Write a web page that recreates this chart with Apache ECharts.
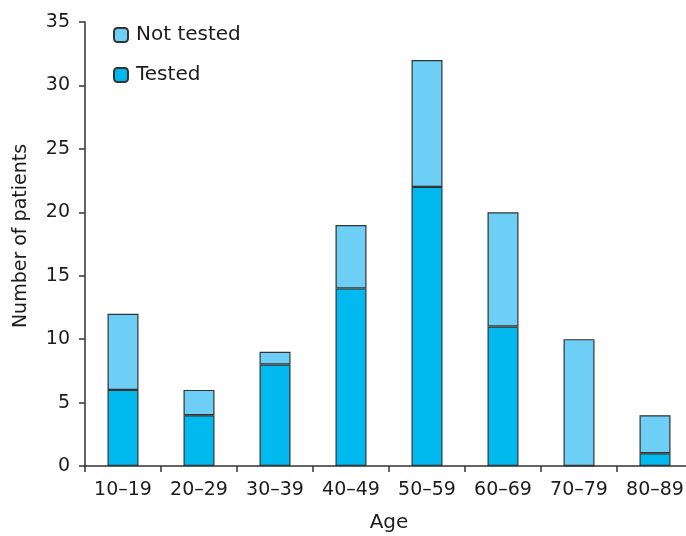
<!DOCTYPE html>
<html><head><meta charset="utf-8">
<script src="https://cdn.jsdelivr.net/npm/echarts@6/dist/echarts.min.js"></script>
<style>html,body{margin:0;padding:0;background:#fff}#c{width:686px;height:536px}</style>
</head><body><div id="c"></div>
<script>
const categories = ['10–19','20–29','30–39','40–49','50–59','60–69','70–79','80–89'];
const tested = [6, 4, 8, 14, 22, 11, 0, 1];
const notTested = [6, 2, 1, 5, 10, 9, 10, 3];
const yTicks = {min: 0, max: 35, interval: 5};

const font = 'DejaVu Sans, sans-serif';
const txt = '#1c1c1c';
const chart = echarts.init(document.getElementById('c'));
chart.setOption({
  animation: false,
  textStyle: {fontFamily: font},
  grid: {left: 85, top: 22, height: 444, width: 608, containLabel: false, outerBoundsMode: 'none'},
  legend: {
    orient: 'vertical', left: 108, top: 20, itemWidth: 14, itemHeight: 14, itemGap: 20,
    textStyle: {fontSize: 20, color: txt, fontFamily: font, padding: [0, 0, 0, 3]},
    data: ['Not tested', 'Tested']
  },
  xAxis: {
    type: 'category', data: categories,
    name: 'Age', nameLocation: 'middle', nameGap: 47,
    nameTextStyle: {fontSize: 20, color: txt},
    axisLine: {lineStyle: {color: '#333', width: 1.5}},
    axisTick: {show: true, length: 6, lineStyle: {color: '#333', width: 1.5}},
    axisLabel: {fontSize: 19, color: txt, margin: 15, interval: 0, hideOverlap: false}
  },
  yAxis: {
    type: 'value', min: yTicks.min, max: yTicks.max, interval: yTicks.interval,
    name: 'Number of patients', nameLocation: 'middle', nameGap: 54,
    nameTextStyle: {fontSize: 19, color: txt, padding: [0, 0, 0, 16]},
    splitLine: {show: false},
    axisLine: {show: true, lineStyle: {color: '#333', width: 1.5}},
    axisTick: {show: true, length: 6, lineStyle: {color: '#333', width: 1.5}},
    axisLabel: {fontSize: 19, color: txt, margin: 15}
  },
  series: [
    {name: 'Tested', type: 'bar', stack: 'a', data: tested, barWidth: 31,
     itemStyle: {color: '#00b9ef', borderColor: '#333', borderWidth: 1.2}},
    {name: 'Not tested', type: 'bar', stack: 'a', data: notTested, barWidth: 31,
     itemStyle: {color: '#6dcff6', borderColor: '#333', borderWidth: 1.2}}
  ]
});
</script></body></html>
